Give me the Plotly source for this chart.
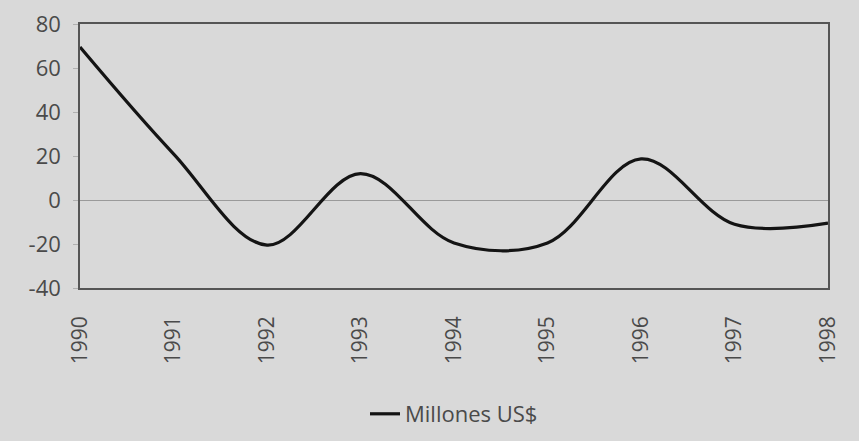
import plotly.graph_objects as go

years = [1990, 1991, 1992, 1993, 1994, 1995, 1996, 1997, 1998]
values = [69.5, 21, -20.5, 12, -19.5, -19.5, 18.7, -11, -10.5]
series_name = "Millones US$"
y_ticks = [-40, -20, 0, 20, 40, 60, 80]
y_tick_labels = ["-40", "-20", "0", "20", "40", "60", "80"]

bg = "#d9d9d9"
txt = "#4a4a4a"

fig = go.Figure()
fig.add_trace(go.Scatter(
    x=years, y=values, mode="lines", name=series_name,
    line=dict(color="#141414", width=3.2, shape="spline", smoothing=1.0),
))

fig.update_layout(
    width=859, height=441,
    margin=dict(l=80, r=31, t=24, b=153, autoexpand=False),
    paper_bgcolor=bg, plot_bgcolor=bg,
    font=dict(family="Open Sans", size=20, color=txt),
    showlegend=True,
    legend=dict(orientation="h", x=0.5, xanchor="center",
                yref="container", y=1 - 414 / 441, yanchor="middle",
                font=dict(size=22, color=txt), bgcolor="rgba(0,0,0,0)"),
)
fig.update_xaxes(
    range=[1990, 1998], tickvals=years, ticktext=[str(y) for y in years],
    tickangle=-90, showgrid=False, zeroline=False,
    showline=True, mirror=True, linecolor="#555555", linewidth=1.5,
    ticks="outside", ticklen=18, tickcolor=bg, tickfont=dict(size=21, color=txt),
)
fig.update_yaxes(
    range=[-40, 80], tickvals=y_ticks, ticktext=y_tick_labels, showgrid=False,
    zeroline=True, zerolinecolor="#9a9a9a", zerolinewidth=1,
    showline=True, mirror=True, linecolor="#555555", linewidth=1.5,
    ticks="outside", ticklen=5, tickcolor="#b0b0b0", ticklabelstandoff=8,
    tickfont=dict(size=22, color=txt),
)

fig.write_html(
    "out.html",
    config={"displayModeBar": False},
    post_script="document.body.style.margin='0';document.body.style.background='#d9d9d9';",
)
